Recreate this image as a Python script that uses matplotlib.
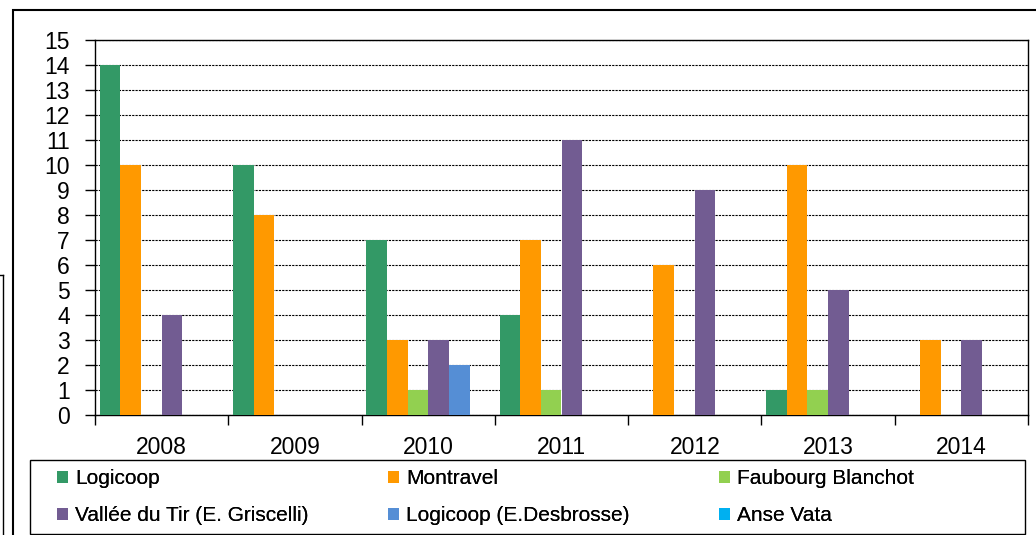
import numpy as np
import matplotlib.pyplot as plt
from matplotlib.patches import Rectangle
from matplotlib.lines import Line2D

plt.rcParams['font.family'] = ['Liberation Sans', 'DejaVu Sans']

# Data
years = ['2008', '2009', '2010', '2011', '2012', '2013', '2014']
series = ['Logicoop', 'Montravel', 'Faubourg Blanchot',
          'Vallée du Tir (E. Griscelli)', 'Logicoop (E.Desbrosse)', 'Anse Vata']
logicoop = [14, 10, 7, 4, 0, 1, 0]
montravel = [10, 8, 3, 7, 6, 10, 3]
faubourg = [0, 0, 1, 1, 0, 1, 0]
vallee = [4, 0, 3, 11, 9, 5, 3]
desbrosse = [0, 0, 2, 0, 0, 0, 0]
anse_vata = [0, 0, 0, 0, 0, 0, 0]
values = [logicoop, montravel, faubourg, vallee, desbrosse, anse_vata]
colors = ['#339966', '#FF9900', '#92D050', '#725C92', '#558ED5', '#00B0F0']

W, H = 1036, 535
fig = plt.figure(figsize=(W / 100, H / 100), dpi=100)
ax = fig.add_axes([95 / W, 1 - 415 / H, (1028 - 95) / W, (415 - 40) / H])

x = np.arange(len(years))
bw = 0.155
handles = []
for i, (name, vals, c) in enumerate(zip(series, values, colors)):
    offs = (i - 2.5) * bw
    b = ax.bar(x + offs, vals, bw, color=c, label=name, zorder=3)
    handles.append(b)

ax.set_xlim(-0.5, len(years) - 0.5)
ax.set_ylim(0, 15)
ax.set_yticks(range(0, 16))
ax.tick_params(axis='y', labelsize=16.5, direction='out', length=7, width=1, pad=11)
ax.yaxis.grid(True, color='black', linestyle=(0, (2, 1)), linewidth=0.8, zorder=0)

# category boundaries as major ticks, labels on minor
ax.set_xticks(np.arange(-0.5, len(years)), [''] * (len(years) + 1))
ax.set_xticks(x, years, minor=True)
ax.tick_params(axis='x', which='major', direction='out', length=7, width=1)
ax.tick_params(axis='x', which='minor', length=0, labelsize=16.5, pad=15)

for s in ax.spines.values():
    s.set_color('black')
    s.set_linewidth(1)

# legend: frame plus one column per block, row-major like the original
fig.patches.append(Rectangle((30 / W, 1 - 534 / H), (1025 - 30) / W, (534 - 460) / H,
                             transform=fig.transFigure, fill=False,
                             edgecolor='black', linewidth=1))
col_x = [51, 382, 713]
for j in range(3):
    idx = [j, j + 3]
    lg = fig.legend([handles[k] for k in idx], [series[k] for k in idx],
                    loc='upper left', bbox_to_anchor=(col_x[j] / W, 1 - 463 / H),
                    fontsize=15, frameon=False, handlelength=0.5,
                    handleheight=0.5, handletextpad=0.35, borderaxespad=0,
                    labelspacing=0.85, borderpad=0.3)
    fig.add_artist(lg)

# outer chart frame and neighbouring box edge
fig.patches.append(Rectangle((13 / W, -0.05), 1.1, 1 - 10 / H + 0.05,
                             transform=fig.transFigure, fill=False,
                             edgecolor='black', linewidth=1.5))
fig.lines.append(Line2D([3 / W, 3 / W], [0, 1 - 275 / H],
                        transform=fig.transFigure, color='black', linewidth=1))
fig.lines.append(Line2D([0, 3 / W], [1 - 275 / H, 1 - 275 / H],
                        transform=fig.transFigure, color='black', linewidth=1))

plt.savefig('out.png', dpi=100)
plt.close()
